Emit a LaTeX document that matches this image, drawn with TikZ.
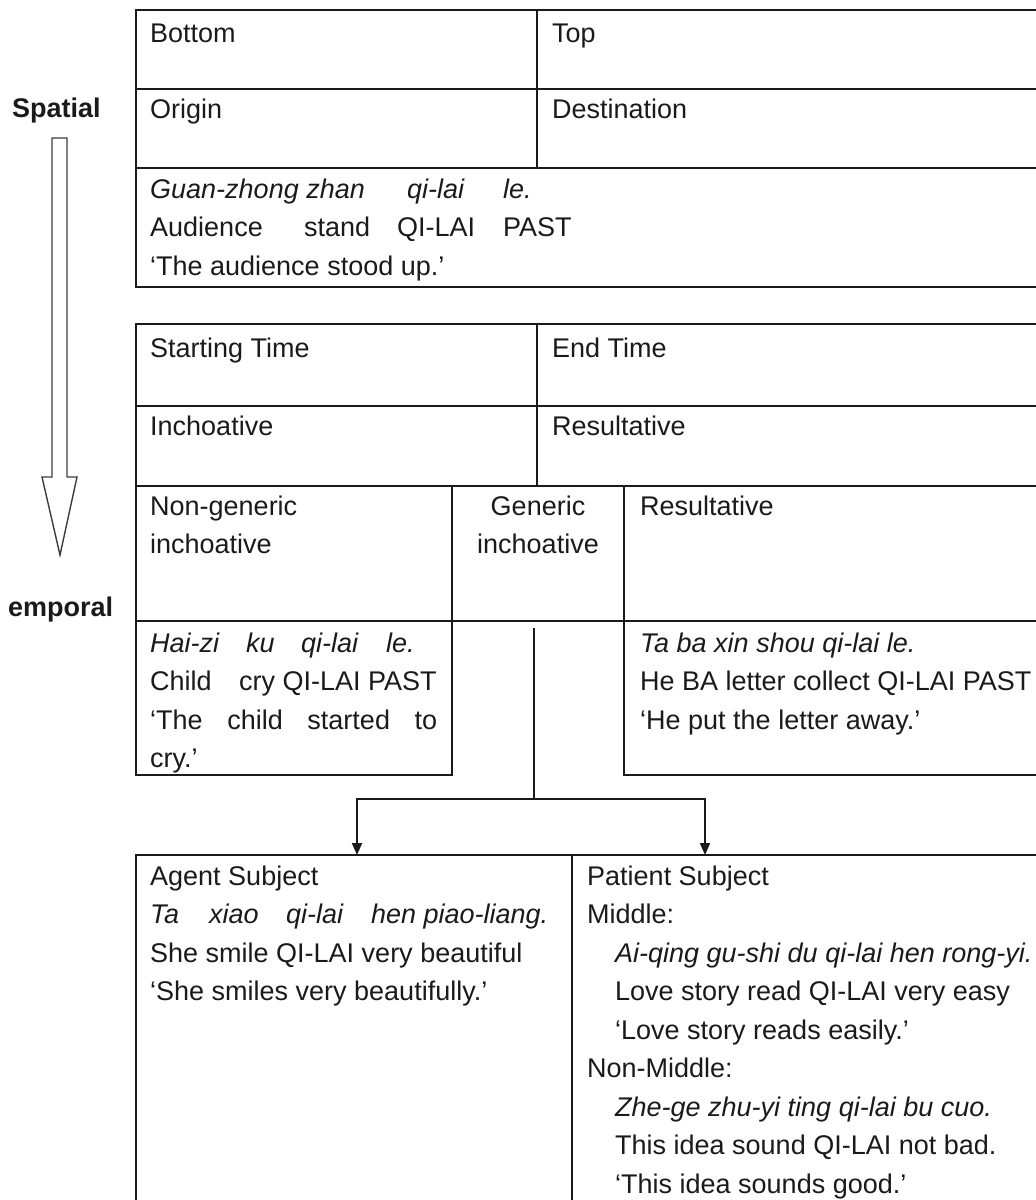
\documentclass[tikz,border=0pt]{standalone}
\usepackage{fontspec}
\setmainfont{Liberation Sans}
\usetikzlibrary{arrows.meta}

\definecolor{ink}{HTML}{1A1A1A}
\newcommand\cellfont{\fontsize{27}{38.5}\selectfont}
% stacked lines whose baseline is that of the first line
\newcommand\stackl[1]{\begin{tabular}[t]{@{}l@{}}#1\end{tabular}}
\newcommand\stackc[1]{\begin{tabular}[t]{@{}c@{}}#1\end{tabular}}
% a word set in a box of fixed width, for the aligned gloss columns
\newcommand\wbox[2]{\makebox[#1pt][l]{#2}}
\newcommand\ind{\hspace*{28pt}}

\begin{document}
\begin{tikzpicture}[x=1pt,y=-1pt,
  txt/.style={anchor=base west, inner sep=0pt, font=\cellfont, text=ink},
  ctxt/.style={anchor=base, inner sep=0pt, font=\cellfont, text=ink},
  side/.style={anchor=base west, inner sep=0pt, font=\cellfont\bfseries, text=ink},
  rule/.style={draw=ink, line width=1.8pt},
  link/.style={draw=ink, line width=1.8pt},
  tip/.style={-{Triangle[length=12pt,width=10pt]}},
  hollow/.style={draw=ink!85, line width=1.4pt, line join=miter}]

\useasboundingbox (0,0) rectangle (1036,1200);
\clip (0,0) rectangle (1036,1200);

% ---------- side labels and the spatial-to-temporal arrow ----------
\node[side] (spatial) at (12,117) {Spatial};
\node[side] (temporal) at (8,616) {emporal};
\draw[hollow] (52,138) -- (67,138) -- (67,477) -- (77,477) -- (60,555)
  -- (42,477) -- (52,477) -- cycle;

% ---------- spatial table ----------
\draw[rule] (1060,10) -- (136,10) -- (136,287) -- (1060,287);
\draw[rule] (136,89) -- (1060,89);
\draw[rule] (136,168) -- (1060,168);
\draw[rule] (537,10) -- (537,168);

\node[txt] (bottom) at (150,42) {Bottom};
\node[txt] (topc) at (552,42) {Top};
\node[txt] (origin) at (150,118) {Origin};
\node[txt] (dest) at (552,118) {Destination};
\node[txt] (exA) at (150,198) {\stackl{%
  \textit{\wbox{257}{Guan-zhong zhan}\wbox{96}{qi-lai}le.}\\
  \wbox{154}{Audience}\wbox{93}{stand}\wbox{106}{QI-LAI}PAST\\
  ‘The audience stood up.’}};

% ---------- temporal table ----------
\draw[rule] (1060,324) -- (136,324) -- (136,775) -- (452,775) -- (452,486);
\draw[rule] (136,406) -- (1060,406);
\draw[rule] (136,486) -- (1060,486);
\draw[rule] (136,621) -- (1060,621);
\draw[rule] (537,324) -- (537,486);
\draw[rule] (624,486) -- (624,775) -- (1060,775);

\node[txt] (start) at (150,357) {Starting Time};
\node[txt] (endt) at (552,357) {End Time};
\node[txt] (inch) at (150,435) {Inchoative};
\node[txt] (res) at (552,435) {Resultative};
\node[txt] (nongen) at (150,515) {\stackl{Non-generic\\inchoative}};
\node[ctxt] (gen) at (538,515) {\stackc{Generic\\inchoative}};
\node[txt] (res2) at (640,515) {Resultative};
\node[txt] (exB) at (150,652) {\stackl{%
  \textit{\wbox{96}{Hai-zi}\wbox{55}{ku}\wbox{85}{qi-lai}le.}\\
  \wbox{89}{Child}cry QI-LAI PAST\\
  \makebox[287pt][s]{‘The child started to}\\
  cry.’}};
\node[txt] (exC) at (640,652) {\stackl{%
  \textit{Ta ba xin shou qi-lai le.}\\
  He BA letter collect QI-LAI PAST\\
  ‘He put the letter away.’}};

% ---------- split of the generic inchoative ----------
\coordinate (stem) at (534,628);
\coordinate (split) at (534,799);
\coordinate (agentIn) at (357,855);
\coordinate (patientIn) at (705,855);
\draw[link] (stem) -- (split);
\draw[link,tip] (split) -| (agentIn);
\draw[link,tip] (split) -| (patientIn);

% ---------- subject table ----------
\draw[rule] (1060,855) -- (136,855) -- (136,1230);
\draw[rule] (572,855) -- (572,1230);

\node[txt] (agent) at (150,885) {\stackl{%
  Agent Subject\\
  \textit{\wbox{59}{Ta}\wbox{77}{xiao}\wbox{85}{qi-lai}hen piao-liang.}\\
  She smile QI-LAI very beautiful\\
  ‘She smiles very beautifully.’}};
\node[txt] (patient) at (587,885) {\stackl{%
  Patient Subject\\
  Middle:\\
  \ind\textit{Ai-qing gu-shi du qi-lai hen rong-yi.}\\
  \ind Love story read QI-LAI very easy\\
  \ind ‘Love story reads easily.’\\
  Non-Middle:\\
  \ind\textit{Zhe-ge zhu-yi ting qi-lai bu cuo.}\\
  \ind This idea sound QI-LAI not bad.\\
  \ind ‘This idea sounds good.’}};

\end{tikzpicture}
\end{document}
